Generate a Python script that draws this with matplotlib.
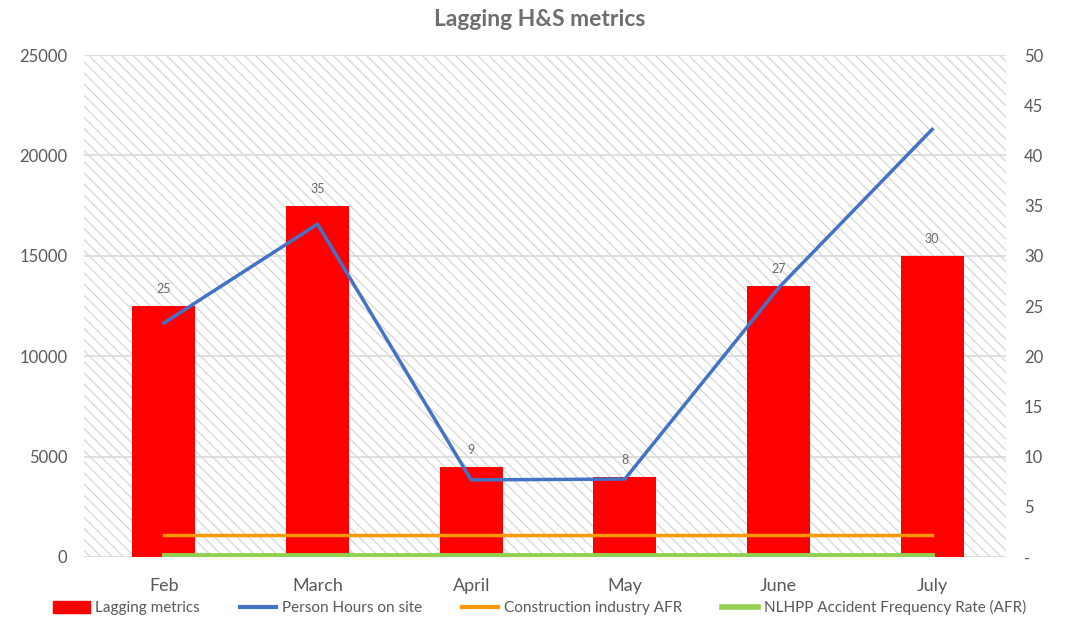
import matplotlib.pyplot as plt
from matplotlib.patches import Rectangle
from matplotlib.lines import Line2D
from matplotlib.ticker import FuncFormatter

# Data
months = ['Feb', 'March', 'April', 'May', 'June', 'July']
lagging_metrics = [25, 35, 9, 8, 27, 30]
person_hours = [11650, 16580, 3840, 3880, 13400, 21300]
construction_afr = [2.2, 2.2, 2.2, 2.2, 2.2, 2.2]
nlhpp_afr = [0.15, 0.15, 0.15, 0.15, 0.15, 0.15]

text_col = '#595959'
plt.rcParams['font.family'] = ['Lato', 'DejaVu Sans']
plt.rcParams['hatch.linewidth'] = 0.9

fig = plt.figure(figsize=(10.79, 6.19), dpi=100)
ax = fig.add_axes([0.0778, 0.1002, 0.8545, 0.8109])
ax2 = ax.twinx()

x = list(range(len(months)))

# hatched plot background + gridlines, drawn on the lower (secondary) axes
ax2.add_patch(Rectangle((0, 0), 1, 1, transform=ax2.transAxes, facecolor='white',
                        edgecolor='#d6d6d6', hatch='\\\\\\', linewidth=0, zorder=0))
for yv in range(0, 51, 10):
    ax2.axhline(yv, color='#d9d9d9', lw=1.2, zorder=1)

# bars and AFR lines on the secondary axis
ax2.bar(x, lagging_metrics, width=0.41, color='#ff0000', zorder=2)
for xi, v in zip(x, lagging_metrics):
    ax2.annotate(str(v), (xi, v), xytext=(0, 8), textcoords='offset points',
                 ha='center', va='bottom', fontsize=9, color='#6b6b6b')
ax2.plot(x, construction_afr, color='#ff9900', lw=2.5, zorder=3)
ax2.plot(x, nlhpp_afr, color='#92d050', lw=3.5, zorder=3)

# person hours on the primary axis, drawn on top
ax.set_zorder(ax2.get_zorder() + 1)
ax.patch.set_visible(False)
ax.plot(x, person_hours, color='#4472c4', lw=2.5, zorder=4)

ax.set_xlim(-0.52, 5.48)
ax.set_ylim(0, 25000)
ax2.set_ylim(0, 50)
ax.set_yticks(range(0, 25001, 5000))
ax2.set_yticks(range(0, 51, 5))
ax2.yaxis.set_major_formatter(FuncFormatter(lambda v, p: '-' if v == 0 else f'{v:g}'))

for a in (ax, ax2):
    for s in a.spines.values():
        s.set_visible(False)
    a.tick_params(length=0, colors=text_col, labelsize=12)
ax.set_xticks(x)
ax.set_xticklabels(months, fontsize=13)
ax.tick_params(axis='x', pad=15)
ax.tick_params(axis='y', pad=12)
ax2.tick_params(axis='y', pad=13)

fig.text(0.5, 0.968, 'Lagging H&S metrics', ha='center', va='center',
         fontsize=16.5, fontweight='bold', color='#6e6e6e')

handles = [Rectangle((0, 0), 1, 1, color='#ff0000'),
           Line2D([], [], color='#4472c4', lw=3),
           Line2D([], [], color='#ff9900', lw=3),
           Line2D([], [], color='#92d050', lw=4)]
labels = ['Lagging metrics', 'Person Hours on site', 'Construction industry AFR',
          'NLHPP Accident Frequency Rate (AFR)']
fig.legend(handles, labels, loc='center', bbox_to_anchor=(0.5, 0.018), ncol=4,
           frameon=False, fontsize=11, labelcolor=text_col, handlelength=2.4,
           handleheight=0.9, columnspacing=2.6, handletextpad=0.35)

fig.savefig('out.png', dpi=100)
